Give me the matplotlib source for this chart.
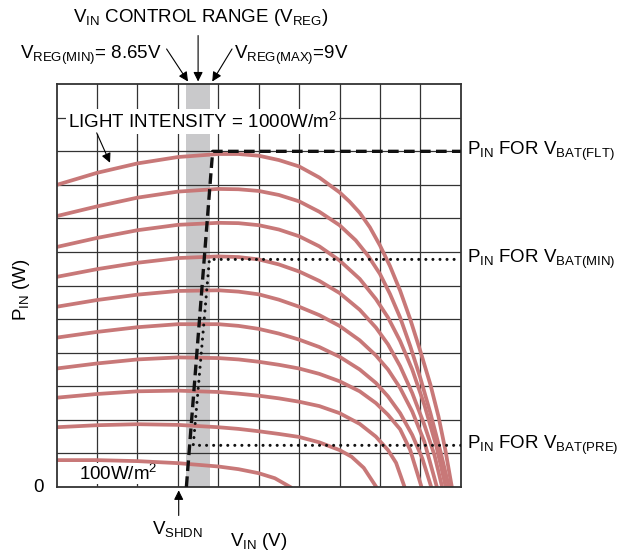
import matplotlib
matplotlib.use("Agg")
import matplotlib.pyplot as plt

plt.rcParams['font.family'] = ['Liberation Sans', 'DejaVu Sans']
plt.rcParams['mathtext.default'] = 'regular'

# P-V curves of the panel, one per light level (x in grid units of V_IN, y in W)
v_1000 = [0, 1, 2, 3, 4, 4.5, 5, 5.5, 6, 6.5, 7, 7.25, 7.5, 7.75, 8.0, 8.25, 8.5, 8.75, 9.0, 9.25, 9.45, 9.62, 9.78]
p_1000 = [9.0, 9.36, 9.64, 9.83, 9.92, 9.92, 9.87, 9.74, 9.55, 9.22, 8.78, 8.5, 8.17, 7.74, 7.2, 6.58, 5.85, 5.0, 4.05, 3.05, 2.1, 1.1, 0]
v_900 = [0, 1, 2, 3, 4, 4.5, 5, 5.5, 6, 6.5, 7, 7.4, 7.7, 8.0, 8.25, 8.5, 8.75, 9.0, 9.25, 9.5, 9.71]
p_900 = [8.07, 8.36, 8.62, 8.8, 8.88, 8.87, 8.82, 8.7, 8.51, 8.2, 7.8, 7.35, 6.9, 6.35, 5.75, 5.05, 4.2, 3.25, 2.2, 1.05, 0]
v_800 = [0, 1, 2, 3, 4, 4.5, 5, 5.5, 6, 6.5, 7, 7.5, 7.9, 8.2, 8.5, 8.8, 9.1, 9.4, 9.63]
p_800 = [7.15, 7.42, 7.65, 7.81, 7.87, 7.86, 7.8, 7.67, 7.47, 7.17, 6.75, 6.2, 5.6, 5.05, 4.35, 3.5, 2.45, 1.2, 0]
v_700 = [0, 1, 2, 3, 4, 4.5, 5, 5.5, 6, 6.5, 7, 7.5, 7.9, 8.2, 8.5, 8.8, 9.1, 9.35, 9.54]
p_700 = [6.26, 6.49, 6.68, 6.82, 6.87, 6.85, 6.78, 6.63, 6.42, 6.14, 5.78, 5.28, 4.75, 4.25, 3.6, 2.8, 1.85, 0.95, 0]
v_600 = [0, 1, 2, 3, 4, 4.5, 5, 5.5, 6, 6.5, 7, 7.5, 7.9, 8.2, 8.5, 8.8, 9.1, 9.41]
p_600 = [5.37, 5.57, 5.73, 5.84, 5.86, 5.82, 5.74, 5.58, 5.37, 5.12, 4.8, 4.37, 3.92, 3.5, 2.95, 2.25, 1.35, 0]
v_500 = [0, 1, 2, 3, 4, 4.5, 5, 5.5, 6, 6.5, 7, 7.5, 7.9, 8.2, 8.5, 8.8, 9.05, 9.27]
p_500 = [4.45, 4.62, 4.76, 4.85, 4.85, 4.8, 4.71, 4.57, 4.39, 4.17, 3.88, 3.5, 3.1, 2.7, 2.2, 1.55, 0.85, 0]
v_400 = [0, 1, 2, 3, 4, 4.5, 5, 5.5, 6, 6.5, 7, 7.5, 7.9, 8.2, 8.5, 8.75, 9.03]
p_400 = [3.53, 3.68, 3.8, 3.86, 3.84, 3.8, 3.73, 3.64, 3.53, 3.37, 3.15, 2.85, 2.5, 2.15, 1.72, 1.1, 0]
v_300 = [0, 1, 2, 3, 4, 4.5, 5, 5.5, 6, 6.5, 7, 7.5, 7.9, 8.2, 8.4, 8.61]
p_300 = [2.66, 2.77, 2.85, 2.87, 2.83, 2.78, 2.72, 2.64, 2.54, 2.41, 2.2, 1.88, 1.5, 1.1, 0.72, 0]
v_200 = [0, 1, 2, 3, 4, 4.5, 5, 5.5, 6, 6.5, 7, 7.3, 7.6, 7.91]
p_200 = [1.78, 1.84, 1.87, 1.85, 1.78, 1.73, 1.66, 1.58, 1.49, 1.33, 1.1, 0.9, 0.57, 0]
v_100 = [0, 1, 2, 3, 4, 4.5, 5, 5.4, 5.78]
p_100 = [0.8, 0.8, 0.77, 0.71, 0.61, 0.53, 0.41, 0.26, 0]

# regulation window and charger input power levels
v_reg_min, v_reg_max = 3.2, 3.8
flt_v = [3.21, 3.86, 10]
flt_p = [0, 10.0, 10.0]
pre_min_v = [10, 3.38, 3.78, 10]
pre_min_p = [1.24, 1.24, 6.78, 6.78]

curves = [(v_1000, p_1000), (v_900, p_900), (v_800, p_800), (v_700, p_700),
          (v_600, p_600), (v_500, p_500), (v_400, p_400), (v_300, p_300),
          (v_200, p_200), (v_100, p_100)]

fig = plt.figure(figsize=(6.23, 5.54), dpi=100)
ax = fig.add_axes([0.091, 0.121, 0.6485, 0.727])
ax.set_xlim(0, 10)
ax.set_ylim(0, 12)

ax.axvspan(v_reg_min, v_reg_max, color='#c9c9cb', lw=0, zorder=0)
for gx in range(1, 10):
    ax.axvline(gx, color='#333333', lw=0.9, zorder=1)
for gy in range(1, 12):
    ax.axhline(gy, color='#333333', lw=0.9, zorder=1)

for v, p in curves:
    ax.plot(v, p, color='#c87878', lw=2.7, solid_joinstyle='round', zorder=2)

ax.plot(flt_v, flt_p, color='#111111', lw=2.4, linestyle=(0, (3.2, 1.6)), zorder=3)
ax.plot(pre_min_v, pre_min_p, color='#111111', lw=2.2, linestyle=(0, (0.01, 2.3)),
        dash_capstyle='round', zorder=3)

ax.set_xticks([])
ax.set_yticks([])
for s in ax.spines.values():
    s.set_linewidth(1.3)
    s.set_color('#333333')

arrow = dict(arrowstyle='-|>', color='black', lw=0.8, mutation_scale=14, shrinkA=0, shrinkB=0)
fs = 13.5

ax.text(3.57, 14.0, r'V$_{IN}$ CONTROL RANGE (V$_{REG}$)', fontsize=fs, ha='center', va='center', clip_on=False)
ax.text(2.6, 12.85, r'V$_{REG(MIN)}$= 8.65V', fontsize=fs, ha='right', va='center', clip_on=False)
ax.text(4.39, 12.85, r'V$_{REG(MAX)}$=9V', fontsize=fs, ha='left', va='center', clip_on=False)
ax.annotate('', xy=(3.5, 12.08), xytext=(3.5, 13.45), arrowprops=arrow, annotation_clip=False)
ax.annotate('', xy=(3.25, 12.08), xytext=(2.72, 13.05), arrowprops=arrow, annotation_clip=False)
ax.annotate('', xy=(3.85, 12.08), xytext=(4.34, 13.05), arrowprops=arrow, annotation_clip=False)

ax.text(0.28, 10.89, r'LIGHT INTENSITY = 1000W/m$^2$', fontsize=fs, ha='left', va='center', zorder=4,
        bbox=dict(facecolor='white', edgecolor='none', pad=1.5))
ax.annotate('', xy=(1.32, 9.66), xytext=(0.99, 10.55), arrowprops=arrow, zorder=4)
# label sits over the grid but under the curves
ax.text(0.55, 0.4, r'100W/m$^2$', fontsize=fs, ha='left', va='center', zorder=1.5,
        bbox=dict(facecolor='white', edgecolor='none', pad=0.5))

ax.text(-0.46, -0.03, '0', fontsize=fs, ha='center', va='center', clip_on=False)
ax.text(-0.88, 5.88, r'P$_{IN}$ (W)', fontsize=fs, rotation=90, ha='center', va='center', clip_on=False)
ax.text(3.0, -1.25, r'V$_{SHDN}$', fontsize=fs, ha='center', va='center', clip_on=False)
ax.annotate('', xy=(3.02, -0.1), xytext=(3.02, -0.85), arrowprops=arrow, annotation_clip=False)
ax.text(4.99, -1.62, r'V$_{IN}$ (V)', fontsize=fs, ha='center', va='center', clip_on=False)

for lvl, tag in [(10.0, 'FLT'), (6.78, 'MIN'), (1.24, 'PRE')]:
    ax.text(10.16, lvl, r'P$_{IN}$ FOR V$_{BAT(%s)}$' % tag, fontsize=fs, ha='left', va='center', clip_on=False)

fig.savefig('out.png', dpi=100)
